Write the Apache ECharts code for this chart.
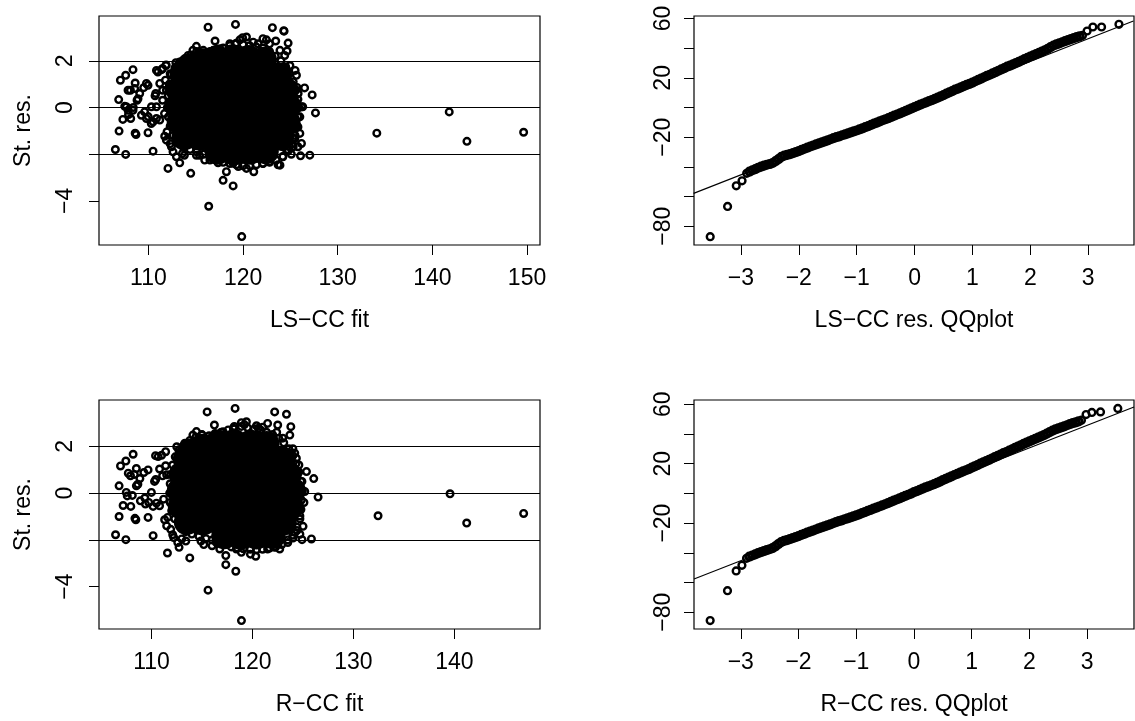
<!DOCTYPE html>
<html>
<head>
<meta charset="utf-8">
<script src="https://cdn.jsdelivr.net/npm/echarts@6/dist/echarts.min.js"></script>
<style>
html,body{margin:0;padding:0;background:#fff;}
#c{width:1135px;height:721px;}
</style>
</head>
<body>
<div id="c"></div>
<script>
// ---------------- DATA ----------------
// Panel 1: LS-CC fit vs standardized residuals
const lsFitCore = [
 [117.2,2.1],[118.9,2.15],[120.6,2.12],[122.2,2.05],[115.6,1.95],[114.3,1.75],
 [113.6,1.4],[115.3,1.45],[117.0,1.42],[118.7,1.44],[120.4,1.4],[122.1,1.43],[123.8,1.38],
 [113.2,0.75],[114.9,0.72],[116.6,0.76],[118.3,0.74],[120.0,0.73],[121.7,0.75],[123.4,0.72],[124.5,0.74],
 [113.1,0.05],[114.8,0.07],[116.5,0.06],[118.2,0.05],[119.9,0.08],[121.6,0.06],[123.3,0.05],[124.8,0.06],
 [113.3,-0.6],[115.0,-0.63],[116.7,-0.61],[118.4,-0.62],[120.1,-0.64],[121.8,-0.6],[123.5,-0.62],[124.7,-0.63],
 [113.8,-1.28],[115.5,-1.3],[117.2,-1.32],[118.9,-1.3],[120.6,-1.31],[122.3,-1.29],[124.0,-1.3],
 [117.3,-1.9],[119.0,-1.92],[120.7,-1.9],[122.4,-1.88]
];
const lsFitEdge = [
 [112.0,0.0],[112.1,0.5],[112.2,1.0],[112.4,1.4],[112.8,1.7],[113.3,1.95],[113.9,2.1],[114.5,2.25],
 [115.1,2.4],[115.8,2.35],[116.5,2.4],[117.2,2.5],[117.9,2.55],[118.6,2.65],[119.3,2.75],[120.0,2.7],
 [120.7,2.65],[121.4,2.6],[122.1,2.55],[122.8,2.4],[123.4,2.2],[124.0,2.0],[124.5,1.75],[124.9,1.45],
 [125.3,1.1],[125.6,0.75],[125.8,0.35],[125.9,0.0],[125.8,-0.4],[125.7,-0.8],[125.5,-1.2],[125.2,-1.55],
 [124.8,-1.85],[124.2,-2.1],[123.5,-2.25],[122.8,-2.35],[122.1,-2.4],[121.4,-2.45],[120.7,-2.5],[120.0,-2.5],
 [119.3,-2.45],[118.6,-2.4],[117.9,-2.35],[117.2,-2.25],[116.5,-2.1],[115.8,-2.0],[115.1,-1.9],[114.4,-1.8],
 [113.7,-1.7],[113.1,-1.5],[112.6,-1.2],[112.3,-0.8],[112.1,-0.4]
];
const lsFitOuter = [
 [134.13,-1.10],[141.78,-0.19],[143.65,-1.45],[149.64,-1.06],
 [127.65,-0.23],[127.3,0.54],[126.5,0.84],[124.3,3.29],[124.76,2.76],[124.65,2.42],
 [127.05,-2.04],[126.07,-2.07],[125.1,-2.0],[123.9,-2.47],[125.8,-1.68],[125.5,1.59],[126.3,0.03],
 [119.86,-5.53],[116.37,-4.23],[118.95,-3.36],[117.89,-3.12],[118.24,-2.75],[114.47,-2.82],[112.07,-2.61],
 [113.31,-2.37],[123.7,-2.45],[121.13,-2.75],[117.36,-2.37],[115.95,-2.25],[115.07,-2.05],
 [110.49,-1.87],[107.6,-2.01],[106.51,-1.80],[106.9,-1.01],[108.69,-1.16],[108.6,-1.10],[109.96,-1.08],
 [107.3,-0.51],[108.13,-0.47],[106.86,0.34],[107.67,0.03],[107.9,-0.3],[108.8,0.31],[108.4,0.0],
 [107.04,1.17],[107.6,1.38],[108.37,1.62],[108.1,0.74],[108.6,1.05],[109.5,0.85],[109.96,0.95],
 [109.6,-0.19],[109.98,-0.39],[110.49,-0.61],[110.85,-0.47],[110.32,0.03],[110.77,0.6],[111.0,1.52],
 [111.5,1.67],[111.87,1.82],[112.78,1.59],[111.9,0.74],[111.5,0.31],[111.72,-1.23],[112.43,-1.68],[113.6,-1.97],
 [116.3,3.44],[119.2,3.56],[117.04,2.85],[123.1,3.42],[124.33,3.27],[123.45,2.85],[122.47,2.9],[120.36,3.02],
 [119.95,2.99],[119.2,2.73],[121.59,2.73],[115.07,2.62],[114.7,2.45],[115.8,2.45],[113.84,2.09],[112.9,1.92],
 [107.85,0.74],[108.55,0.81],[109.08,0.6],[109.79,1.03],[108.9,0.38],[108.37,-0.12],[107.5,0.05],[107.85,-0.12],
 [109.26,-0.33],[109.79,-0.47],[110.3,-0.69],[110.85,0.03],[111.2,-0.54],[111.7,-0.26],[110.7,0.5],[111.5,0.74],
 [111.8,1.17],[111.2,1.03],[110.85,1.59],[111.4,1.62],[111.85,1.8],[112.3,1.45],[111.97,-1.04],[111.9,-1.4],
 [112.3,-1.55],[112.6,-1.9],[112.96,-2.11],[113.8,-2.05],[115.4,-2.05],[116.5,-2.25],[116.9,-2.1],[118.94,-2.39],
 [119.5,-2.53],[120.36,-2.61],[122.1,-2.39],[122.8,-2.32],[124.2,-2.11],[124.9,-1.68],[125.3,-1.33],
 [113.1,1.8],[113.65,2.02],[114.2,2.23],[115.6,2.3],[116.86,2.45],[117.57,2.52],[118.6,2.73],[119.66,2.9],
 [121.07,2.8],[122.1,2.95],[122.8,2.73],[123.9,2.45],[124.4,2.23],[124.95,1.8],[125.7,0.86],
 [124.23,1.74],[125.64,1.38],[125.29,0.81],[125.82,0.6],[126.17,0.03],[126.0,-0.4],[125.8,-0.83],[126.0,-1.11],
 [126.17,-1.54],[125.3,-1.68],[125.46,-1.33],[124.6,-1.82],[124.2,-1.68]
];

// Panel 3: R-CC fit vs standardized residuals
const rFitCore = [
 [116.6,2.15],[118.2,2.18],[119.8,2.15],[121.4,2.1],[115.1,1.98],[113.9,1.78],
 [113.4,1.45],[115.0,1.48],[116.6,1.47],[118.2,1.49],[119.8,1.46],[121.4,1.48],[123.0,1.44],
 [113.0,0.8],[114.6,0.78],[116.2,0.8],[117.8,0.79],[119.4,0.77],[121.0,0.8],[122.6,0.78],[123.6,0.79],
 [112.8,0.1],[114.4,0.12],[116.0,0.11],[117.6,0.1],[119.2,0.12],[120.8,0.11],[122.4,0.1],[124.0,0.11],
 [112.9,-0.56],[114.5,-0.58],[116.1,-0.57],[117.7,-0.56],[119.3,-0.59],[120.9,-0.57],[122.5,-0.56],[123.8,-0.58],
 [113.5,-1.24],[115.1,-1.26],[116.7,-1.25],[118.3,-1.27],[119.9,-1.25],[121.5,-1.24],[123.1,-1.26],
 [117.2,-1.85],[118.8,-1.87],[120.4,-1.86],[122.0,-1.84]
];
const rFitEdge = [
 [111.8,0.0],[111.85,0.4],[111.9,0.8],[112.1,1.2],[112.35,1.55],[112.7,1.85],[113.2,2.05],[113.8,2.25],
 [114.4,2.4],[115.0,2.5],[115.7,2.45],[116.3,2.55],[116.9,2.6],[117.6,2.7],[118.2,2.75],[118.9,2.85],
 [119.5,2.8],[120.2,2.75],[120.8,2.7],[121.4,2.6],[122.0,2.5],[122.6,2.35],[123.1,2.15],[123.6,1.9],
 [124.0,1.6],[124.3,1.25],[124.6,0.9],[124.8,0.5],[124.95,0.1],[124.85,-0.3],[124.8,-0.7],[124.7,-1.1],
 [124.4,-1.45],[124.0,-1.8],[123.5,-2.0],[122.9,-2.2],[122.3,-2.3],[121.7,-2.35],[121.0,-2.4],[120.4,-2.42],
 [119.8,-2.4],[119.1,-2.38],[118.5,-2.35],[117.9,-2.3],[117.3,-2.2],[116.7,-2.1],[116.0,-2.0],[115.4,-1.95],
 [114.7,-1.85],[114.0,-1.75],[113.4,-1.65],[112.8,-1.4],[112.3,-1.1],[112.0,-0.75],[111.85,-0.4]
];
const rFitOuter = [
 [132.44,-0.97],[139.57,-0.03],[141.22,-1.28],[146.86,-0.87],
 [126.5,-0.17],[126.07,0.62],[125.35,0.92],[123.37,3.37],[123.8,2.84],[123.7,2.48],[125.84,-1.96],[124.91,-1.99],
 [124.02,-1.92],[122.7,-2.39],[124.7,-1.76],[125.01,-1.42],[124.7,-0.98],[124.19,1.71],[124.35,1.49],[125.18,0.07],
 [118.91,-5.45],[115.6,-4.15],[118.35,-3.34],[117.36,-3.06],[117.36,-2.67],[113.79,-2.77],[111.58,-2.56],[112.73,-2.32],
 [120.33,-2.7],[116.76,-2.39],[115.18,-2.2],
 [110.16,-1.82],[107.46,-1.99],[106.44,-1.78],[106.79,-1.0],[108.45,-1.14],[108.36,-1.08],[109.66,-1.04],
 [107.19,-0.53],[107.95,-0.57],[106.79,0.31],[107.5,0.03],[108.5,0.31],[106.93,1.16],[107.46,1.37],[108.18,1.66],
 [107.92,0.74],[108.5,1.05],[109.24,0.88],[109.66,0.99],[109.34,-0.21],[109.73,-0.40],[110.16,-0.57],[110.49,-0.43],
 [109.99,0.03],[110.42,0.58],[110.66,1.56],[111.4,1.77],[111.5,0.78],[111.3,-1.14],[112.1,-1.78],[113.0,-1.96],
 [115.51,3.47],[118.28,3.62],[116.23,2.91],[122.2,3.47],[122.5,2.91],[121.5,2.98],[119.4,3.05],[118.9,3.01],
 [118.1,2.77],[120.6,2.77],[114.45,2.63],[114.1,2.48],[115.0,2.48],[113.3,2.13],[112.5,1.98],
 [107.7,0.85],[108.3,0.8],[108.85,0.62],[108.65,0.38],[108.1,-0.1],[107.6,-0.12],[108.9,-0.33],[109.4,-0.47],
 [110.8,-0.54],[111.2,-0.26],[110.3,0.5],[111.1,0.74],[111.4,1.17],[110.8,1.03],[110.4,1.6],[111.0,1.62],
 [111.6,-1.04],[111.5,-1.4],[111.9,-1.55],[112.2,-1.9],[112.6,-2.11],[113.4,-2.05],[114.9,-2.05],[116.0,-2.25],
 [116.4,-2.1],[118.4,-2.39],[118.9,-2.53],[119.8,-2.61],[121.5,-2.39],[122.2,-2.32],[123.5,-2.11],[124.2,-1.68],
 [112.9,1.8],[113.5,2.05],[114.7,2.3],[116.4,2.5],[117.1,2.62],[118.2,2.85],[119.2,2.93],[120.4,2.88],
 [121.0,2.82],[122.4,2.6],[123.0,2.35],[124.0,1.9],[124.6,1.2],[124.9,0.5],[125.1,-0.4],[124.4,-1.6]
];

// Panels 2 & 4: normal QQ plots (theoretical quantile, sample quantile)
// the first 5 and last 5 entries are the isolated tail points
const qqTheo = [
 -3.53,-3.23,-3.08,-2.98,-2.90,
 -2.85,-2.80,-2.75,-2.70,-2.65,-2.60,-2.55,-2.50,-2.45,-2.40,-2.35,-2.30,-2.25,-2.20,-2.15,-2.10,-2.05,-2.00,
 -1.95,-1.90,-1.85,-1.80,-1.75,-1.70,-1.65,-1.60,-1.55,-1.50,-1.45,-1.40,-1.35,-1.30,-1.25,-1.20,-1.15,-1.10,-1.05,-1.00,
 -0.95,-0.90,-0.85,-0.80,-0.75,-0.70,-0.65,-0.60,-0.55,-0.50,-0.45,-0.40,-0.35,-0.30,-0.25,-0.20,-0.15,-0.10,-0.05,0.00,
 0.05,0.10,0.15,0.20,0.25,0.30,0.35,0.40,0.45,0.50,0.55,0.60,0.65,0.70,0.75,0.80,0.85,0.90,0.95,1.00,
 1.05,1.10,1.15,1.20,1.25,1.30,1.35,1.40,1.45,1.50,1.55,1.60,1.65,1.70,1.75,1.80,1.85,1.90,1.95,2.00,
 2.05,2.10,2.15,2.20,2.25,2.30,2.35,2.40,2.45,2.50,2.55,2.60,2.65,2.70,2.75,2.80,2.85,
 2.90,2.98,3.08,3.23,3.53
];
const qqLS = [
 -87.1,-66.7,-52.8,-49.4,-44.4,
 -43.2,-42.3,-41.5,-40.6,-39.8,-39.2,-38.6,-38.1,-37.4,-36.2,-34.8,-33.3,-32.5,-32.0,-31.4,-30.8,-30.1,-29.4,
 -28.6,-27.8,-27.0,-26.3,-25.6,-24.9,-24.2,-23.5,-22.8,-22.1,-21.4,-20.7,-20.0,-19.4,-18.7,-18.1,-17.4,-16.8,-16.1,-15.5,
 -14.7,-14.0,-13.2,-12.5,-11.7,-10.9,-10.2,-9.4,-8.6,-7.9,-7.1,-6.3,-5.5,-4.7,-3.9,-3.1,-2.3,-1.4,-0.6,0.3,
 1.1,1.9,2.7,3.5,4.3,5.0,5.8,6.6,7.5,8.4,9.3,10.2,11.1,12.0,12.8,13.6,14.4,15.2,16.0,16.8,
 17.7,18.6,19.5,20.4,21.3,22.1,23.0,23.9,24.8,25.7,26.6,27.5,28.3,29.1,29.9,30.8,31.7,32.6,33.5,34.4,
 35.2,36.0,36.8,37.7,38.6,39.6,40.7,41.8,42.6,43.3,44.0,44.7,45.4,46.1,46.8,47.4,48.0,
 48.6,51.6,54.3,54.3,56.1
];
const qqR = [
 -85.6,-65.5,-52.2,-48.4,-43.7,
 -42.6,-41.8,-41.0,-40.2,-39.5,-38.8,-38.2,-37.6,-36.8,-35.6,-34.2,-32.8,-32.0,-31.4,-30.8,-30.1,-29.4,-28.7,
 -27.9,-27.2,-26.4,-25.7,-25.0,-24.3,-23.6,-22.9,-22.2,-21.5,-20.8,-20.1,-19.4,-18.7,-18.1,-17.4,-16.8,-16.1,-15.5,-14.8,
 -14.1,-13.3,-12.6,-11.8,-11.1,-10.3,-9.6,-8.8,-8.0,-7.3,-6.5,-5.7,-4.9,-4.1,-3.3,-2.5,-1.7,-0.9,-0.1,0.8,
 1.6,2.4,3.2,4.0,4.7,5.5,6.3,7.1,8.0,8.9,9.8,10.7,11.5,12.4,13.2,14.0,14.8,15.6,16.4,17.3,
 18.2,19.1,20.0,20.9,21.7,22.6,23.5,24.4,25.3,26.2,27.1,27.9,28.8,29.7,30.6,31.5,32.4,33.3,34.2,35.1,
 35.9,36.7,37.5,38.4,39.3,40.3,41.3,42.3,43.1,43.8,44.5,45.2,45.9,46.6,47.3,47.9,48.5,
 49.3,53.1,54.5,54.9,57.2
];
// qqline end points at the plot edges
const qqLineLS = [[-3.817,-57.9],[3.78,58.3]];
const qqLineR = [[-3.81,-57.6],[3.81,58.2]];
// reference lines in residual plots
const resLines = [2, 0, -2];

// ticks & labels
const fitTicksLS = [110,120,130,140,150];
const fitTicksR = [110,120,130,140];
const resTicks = [-4,-2,0,2];
const resLabels = [-4,0,2];
const qqXTicks = [-3,-2,-1,0,1,2,3];
const qqYTicks = [-80,-60,-40,-20,0,20,40,60];
const qqYLabels = [-80,-20,20,60];

// ---------------- CHART ----------------
const FONT = "'Liberation Sans', Arial, Helvetica, sans-serif";
const fmt = v => (v < 0 ? '\u2212' : '') + Math.abs(v);
const txt = {fontSize: 23, color: '#000', fontFamily: FONT};

function xAx(g, min, max, ticks, name) {
  return {
    type: 'value', gridIndex: g, min, max,
    axisLine: {show: false, onZero: false}, splitLine: {show: false},
    axisTick: {show: true, length: 10, customValues: ticks, lineStyle: {color: '#000', width: 1}},
    axisLabel: Object.assign({customValues: ticks, formatter: fmt, margin: 22}, txt),
    name, nameLocation: 'middle', nameGap: 64, nameTextStyle: txt
  };
}
function yAx(g, min, max, ticks, labels, name, margin) {
  return {
    type: 'value', gridIndex: g, min, max,
    axisLine: {show: false, onZero: false}, splitLine: {show: false},
    axisTick: {show: true, length: 10, customValues: ticks, lineStyle: {color: '#000', width: 1}},
    axisLabel: Object.assign({customValues: labels, formatter: fmt, margin, rotate: 90}, txt),
    name, nameLocation: 'middle', nameGap: 64, nameTextStyle: txt
  };
}
const gridStyle = {show: true, borderColor: '#000', borderWidth: 1.2, backgroundColor: 'transparent', containLabel: false, outerBoundsMode: 'none'};
const hollow = {color: 'rgba(0,0,0,0)', borderColor: '#000', borderWidth: 2.4, opacity: 1};
const bandStyle = {color: 'rgba(0,0,0,0)', borderColor: '#000', borderWidth: 3.2, opacity: 1};
const solid = {color: '#000', opacity: 1};
const hLines = {
  silent: true, symbol: ['none', 'none'], label: {show: false}, animation: false,
  lineStyle: {color: '#000', width: 1.1, type: 'solid', opacity: 1},
  data: resLines.map(v => ({yAxis: v}))
};
const pairs = (xs, ys) => xs.map((x, i) => [x, ys[i]]);
const tails = p => p.slice(0, 5).concat(p.slice(-5));
const band = p => p.slice(5, -5);
const qqLSPts = pairs(qqTheo, qqLS);
const qqRPts = pairs(qqTheo, qqR);

const option = {
  animation: false,
  backgroundColor: '#fff',
  grid: [
    Object.assign({left: 99, top: 16, width: 441, height: 229}, gridStyle),
    Object.assign({left: 694, top: 16, width: 440, height: 229}, gridStyle),
    Object.assign({left: 99, top: 400, width: 441, height: 229}, gridStyle),
    Object.assign({left: 694, top: 400, width: 440, height: 229}, gridStyle)
  ],
  xAxis: [
    xAx(0, 104.78, 151.37, fitTicksLS, 'LS\u2212CC fit'),
    xAx(1, -3.81, 3.79, qqXTicks, 'LS\u2212CC res. QQplot'),
    xAx(2, 104.8, 148.48, fitTicksR, 'R\u2212CC fit'),
    xAx(3, -3.81, 3.81, qqXTicks, 'R\u2212CC res. QQplot')
  ],
  yAxis: [
    yAx(0, -5.89, 3.92, resTicks, resLabels, 'St. res.', 22),
    yAx(1, -92.7, 61.7, qqYTicks, qqYLabels, '', 19),
    yAx(2, -5.81, 3.98, resTicks, resLabels, 'St. res.', 22),
    yAx(3, -91.3, 62.9, qqYTicks, qqYLabels, '', 19)
  ],
  series: [
    {type: 'scatter', xAxisIndex: 0, yAxisIndex: 0, symbol: 'circle', symbolSize: 26,
     itemStyle: solid, data: lsFitCore, silent: true},
    {type: 'scatter', xAxisIndex: 0, yAxisIndex: 0, symbol: 'circle', symbolSize: 6.6,
     itemStyle: hollow, data: lsFitEdge.concat(lsFitOuter), markLine: hLines, silent: true},
    {type: 'scatter', xAxisIndex: 2, yAxisIndex: 2, symbol: 'circle', symbolSize: 26,
     itemStyle: solid, data: rFitCore, silent: true},
    {type: 'scatter', xAxisIndex: 2, yAxisIndex: 2, symbol: 'circle', symbolSize: 6.6,
     itemStyle: hollow, data: rFitEdge.concat(rFitOuter), markLine: hLines, silent: true},
    {type: 'scatter', xAxisIndex: 1, yAxisIndex: 1, symbol: 'circle', symbolSize: 7,
     itemStyle: bandStyle, data: band(qqLSPts), silent: true},
    {type: 'scatter', xAxisIndex: 1, yAxisIndex: 1, symbol: 'circle', symbolSize: 6.8,
     itemStyle: hollow, data: tails(qqLSPts), silent: true},
    {type: 'line', xAxisIndex: 1, yAxisIndex: 1, data: qqLineLS, showSymbol: false, symbol: 'none',
     lineStyle: {color: '#000', width: 1.1, opacity: 1}, silent: true, z: 5},
    {type: 'scatter', xAxisIndex: 3, yAxisIndex: 3, symbol: 'circle', symbolSize: 7,
     itemStyle: bandStyle, data: band(qqRPts), silent: true},
    {type: 'scatter', xAxisIndex: 3, yAxisIndex: 3, symbol: 'circle', symbolSize: 6.8,
     itemStyle: hollow, data: tails(qqRPts), silent: true},
    {type: 'line', xAxisIndex: 3, yAxisIndex: 3, data: qqLineR, showSymbol: false, symbol: 'none',
     lineStyle: {color: '#000', width: 1.1, opacity: 1}, silent: true, z: 5}
  ]
};
const chart = echarts.init(document.getElementById('c'), null, {renderer: 'canvas', devicePixelRatio: 1});
chart.setOption(option);
</script>
</body>
</html>
